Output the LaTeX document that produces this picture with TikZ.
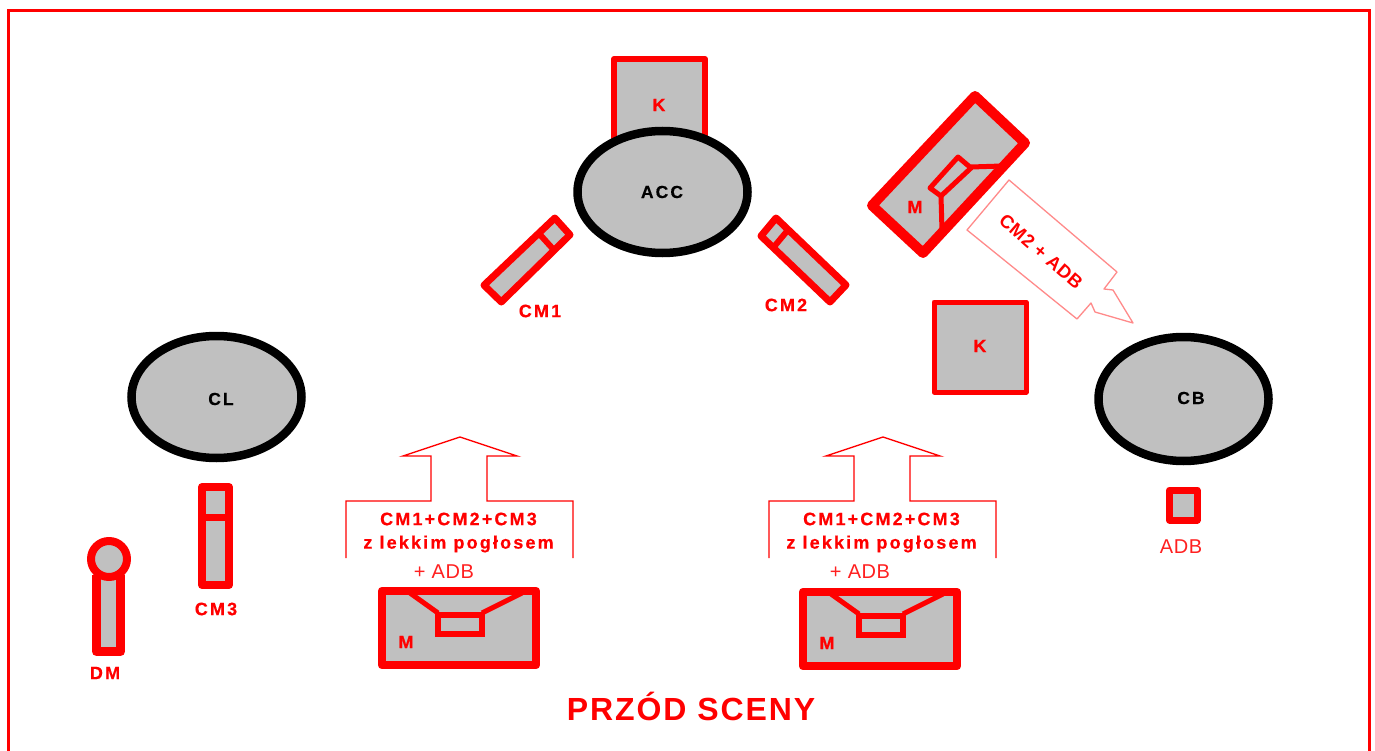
\documentclass[tikz,border=0pt]{standalone}
\usepackage{fontspec}
\setmainfont{Liberation Sans}
\definecolor{rd}{HTML}{FF0000}
\definecolor{gy}{HTML}{C0C0C0}
\definecolor{pk}{HTML}{FF8A8A}
\definecolor{lr}{HTML}{FF2020}
\newfontfamily\lab[LetterSpace=12,FakeBold=0.5]{Liberation Sans Bold}
\newfontfamily\labw[LetterSpace=6]{Liberation Sans Bold}
\newfontfamily\labr[LetterSpace=3]{Liberation Sans}
\tikzset{
  box/.style={draw=rd,fill=gy,line width=#1,line join=round},
  box/.default=6pt,
  sing/.style={draw=black,fill=gy,line width=8.5pt},
  rl/.style={draw=rd,line width=#1},
  rl/.default=5pt,
  outl/.style={draw=rd,line width=1.4pt},
  lbl/.style={text=rd,inner sep=0pt,font=\lab\fontsize{18}{20}\selectfont},
  blk/.style={text=black,inner sep=0pt,font=\lab\fontsize{17.5}{20}\selectfont},
  reg/.style={text=lr,inner sep=0pt,font=\labr\fontsize{20}{22}\selectfont},
}
\begin{document}
\begin{tikzpicture}[x=1pt,y=-1pt]
\useasboundingbox (0,0) rectangle (1375,751);
\fill[white] (0,0) rectangle (1375,751);
\draw[draw=rd,line width=3pt] (8.5,751) -- (8.5,10.5) -- (1369.5,10.5) -- (1369.5,751);
% top K and ACC
\draw[box=6pt] (614,160) -- (614,59) -- (705,59) -- (705,160);
\draw[sing] (662.5,192) ellipse [x radius=85,y radius=61];
\node[lbl] (kt) at (659,105) {K};
\node[blk] (acc) at (662,192) {ACC};
% CM1
\draw[box=7pt] (554.8,218) -- (570,234.8) -- (501.3,302) -- (484,285.2) -- cycle;
\draw[rl=6pt] (538.7,233.2) -- (553.9,250);
\node[lbl] (cma) at (540,311) {CM1};
% CM2
\draw[box=7pt] (776,218) -- (761,236) -- (830,302) -- (846,285) -- cycle;
\draw[rl=6pt] (788.2,229.7) -- (773.2,247.7);
\node[lbl] (cmb) at (786,305) {CM2};
% rotated M
\draw[box=10pt] (975,96) -- (1025,143) -- (923,253) -- (872,205.5) -- cycle;
\draw[rl=5pt,line join=round] (958,157) -- (971,168) -- (941,196) -- (930,188) -- cycle;
\draw[rl=5pt] (971,167) -- (1002,166);
\draw[rl=5pt] (941,196) -- (942,231);
\node[lbl] (mr) at (915,207) {M};
% pink arrow
\draw[draw=pk,line width=1.3pt,fill=white,line join=round]
  (1009,180) -- (1117,272) -- (1104,289) -- (1113,290) -- (1133,323)
  -- (1095,312) -- (1091,303) -- (1077,319) -- (967,230) -- cycle;
\node[lbl,font=\labr\bfseries\fontsize{18.5}{20}\selectfont,rotate=-41] (cmadb) at (1041,252) {CM2 + ADB};
% K right
\draw[box=5pt] (934,302) rectangle (1026,392);
\node[lbl] (kr) at (980,346) {K};
% CB, CL
\draw[sing] (1183.5,399) ellipse [x radius=85,y radius=62];
\node[blk] (cb) at (1191,398) {CB};
\draw[sing] (216.5,397) ellipse [x radius=85,y radius=61];
\node[blk] (cl) at (221,399) {CL};
% ADB
\draw[box=7pt] (1169.5,490) rectangle (1197,520);
\node[reg] (adb) at (1181,547) {ADB};
% CM3
\draw[box=8pt] (202,487) rectangle (229,585);
\draw[rl=7pt] (202,517) -- (229,517);
\node[lbl] (cmc) at (216,609) {CM3};
% DM
\draw[box=9pt] (96.5,575) -- (96.5,651.5) -- (120.5,651.5) -- (120.5,575);
\draw[box=8pt] (109,559) circle [radius=18];
\node[lbl] (dm) at (105,673) {DM};
% bottom monitors
\foreach \dx/\dy/\nm in {0/0/a,421/1/b}{
  \draw[box=8.5pt] (382+\dx,591+\dy) rectangle (536+\dx,665+\dy);
  \draw[rl=5pt] (410+\dx,593+\dy) -- (438+\dx,613+\dy);
  \draw[rl=5pt] (522+\dx,593+\dy) -- (482+\dx,613+\dy);
  \draw[rl=5.5pt] (438+\dx,615+\dy) rectangle (482+\dx,634+\dy);
  \node[lbl] (m\nm) at (406+\dx,642+\dy) {M};
}
% outline arrows
\foreach \dx/\nm/\ax in {0/a/444,423/b/860}{
  \draw[outl,line join=miter] (346+\dx,558) -- (346+\dx,501) -- (431+\dx,501) -- (431+\dx,456)
    -- (403+\dx,456) -- (460+\dx,437) -- (517+\dx,456) -- (487+\dx,456) -- (487+\dx,501)
    -- (573+\dx,501) -- (573+\dx,558);
  \node[lbl] (ta\nm) at (458.5+\dx,519) {CM1+CM2+CM3};
  \node[lbl] (tb\nm) at (458.5+\dx,544) {z lekkim pogłosem};
  \node[reg] (tc\nm) at (\ax,572) {+ ADB};
}
\node[text=rd,inner sep=0pt,anchor=base,font=\labw\fontsize{32}{36}\selectfont] (front) at (691,720) {PRZÓD SCENY};
\end{tikzpicture}
\end{document}
